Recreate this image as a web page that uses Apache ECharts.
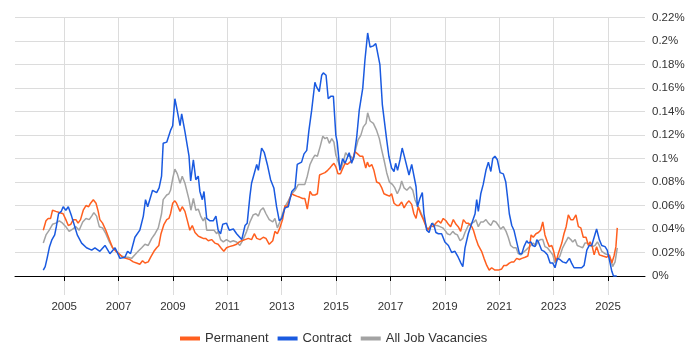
<!DOCTYPE html>
<html>
<head>
<meta charset="utf-8">
<script src="https://cdn.jsdelivr.net/npm/echarts@6/dist/echarts.min.js"></script>
<style>
  html, body { margin: 0; padding: 0; background: #fff; }
  #chart { width: 700px; height: 350px; }
</style>
</head>
<body>
<div id="chart"></div>
<script>
// share of job adverts, in percent, by decimal year
const permanent = [
  [2004.23,0.039],[2004.33,0.047],[2004.41,0.049],[2004.50,0.049],[2004.57,0.056],[2004.69,0.055],[2004.82,0.054],[2004.96,0.053],
  [2005.06,0.048],[2005.15,0.043],[2005.24,0.044],[2005.33,0.048],[2005.43,0.048],[2005.51,0.045],[2005.60,0.048],[2005.70,0.056],
  [2005.80,0.060],[2005.90,0.059],[2005.97,0.062],[2006.07,0.065],[2006.17,0.062],[2006.25,0.055],[2006.31,0.048],[2006.41,0.045],
  [2006.53,0.039],[2006.66,0.031],[2006.78,0.024],[2006.90,0.021],[2007.02,0.019],[2007.15,0.016],[2007.27,0.015],[2007.42,0.014],
  [2007.54,0.012],[2007.66,0.011],[2007.78,0.010],[2007.88,0.013],[2007.97,0.011],[2008.09,0.012],[2008.18,0.016],[2008.30,0.021],
  [2008.40,0.024],[2008.48,0.026],[2008.56,0.036],[2008.67,0.044],[2008.77,0.048],[2008.85,0.049],[2008.91,0.053],[2008.99,0.062],
  [2009.07,0.064],[2009.13,0.062],[2009.26,0.055],[2009.34,0.059],[2009.44,0.055],[2009.52,0.048],[2009.62,0.039],[2009.71,0.043],
  [2009.81,0.037],[2009.93,0.034],[2010.02,0.033],[2010.11,0.032],[2010.20,0.032],[2010.30,0.030],[2010.42,0.031],[2010.54,0.028],
  [2010.66,0.027],[2010.76,0.024],[2010.87,0.021],[2010.97,0.024],[2011.07,0.025],[2011.22,0.026],[2011.34,0.027],[2011.44,0.029],
  [2011.53,0.030],[2011.65,0.031],[2011.77,0.032],[2011.89,0.031],[2011.99,0.036],[2012.08,0.032],[2012.20,0.031],[2012.32,0.033],
  [2012.42,0.032],[2012.54,0.027],[2012.67,0.030],[2012.75,0.038],[2012.84,0.036],[2012.93,0.041],[2013.03,0.048],[2013.12,0.060],
  [2013.20,0.059],[2013.30,0.066],[2013.37,0.070],[2013.45,0.069],[2013.55,0.068],[2013.67,0.067],[2013.77,0.066],[2013.85,0.066],
  [2013.94,0.057],[2014.04,0.072],[2014.12,0.069],[2014.22,0.069],[2014.31,0.070],[2014.39,0.086],[2014.48,0.087],[2014.59,0.088],
  [2014.69,0.090],[2014.77,0.092],[2014.84,0.094],[2014.92,0.096],[2014.99,0.093],[2015.07,0.087],[2015.16,0.087],[2015.23,0.091],
  [2015.33,0.096],[2015.41,0.095],[2015.51,0.097],[2015.61,0.099],[2015.69,0.106],[2015.79,0.104],[2015.88,0.102],[2015.98,0.102],
  [2016.09,0.092],[2016.15,0.097],[2016.22,0.093],[2016.31,0.095],[2016.39,0.090],[2016.49,0.080],[2016.59,0.079],[2016.68,0.075],
  [2016.76,0.070],[2016.86,0.069],[2016.96,0.068],[2017.04,0.070],[2017.13,0.062],[2017.23,0.060],[2017.31,0.060],[2017.41,0.063],
  [2017.50,0.058],[2017.60,0.062],[2017.68,0.064],[2017.78,0.061],[2017.86,0.053],[2017.94,0.049],[2018.02,0.059],[2018.11,0.053],
  [2018.21,0.048],[2018.31,0.042],[2018.39,0.039],[2018.48,0.043],[2018.57,0.042],[2018.67,0.045],[2018.76,0.047],[2018.85,0.045],
  [2018.94,0.049],[2019.04,0.047],[2019.13,0.044],[2019.21,0.042],[2019.31,0.048],[2019.41,0.044],[2019.49,0.042],[2019.58,0.038],
  [2019.68,0.048],[2019.78,0.045],[2019.86,0.045],[2019.99,0.042],[2020.05,0.039],[2020.14,0.032],[2020.23,0.026],[2020.35,0.021],
  [2020.44,0.015],[2020.54,0.009],[2020.63,0.005],[2020.72,0.007],[2020.84,0.005],[2020.97,0.005],[2021.09,0.006],[2021.17,0.009],
  [2021.27,0.009],[2021.37,0.011],[2021.46,0.012],[2021.54,0.012],[2021.64,0.015],[2021.74,0.014],[2021.83,0.015],[2021.95,0.016],
  [2022.05,0.017],[2022.11,0.024],[2022.17,0.035],[2022.25,0.033],[2022.35,0.036],[2022.44,0.037],[2022.52,0.039],[2022.60,0.046],
  [2022.68,0.035],[2022.77,0.029],[2022.84,0.025],[2022.93,0.026],[2022.99,0.022],[2023.09,0.012],[2023.17,0.019],[2023.30,0.028],
  [2023.38,0.036],[2023.46,0.042],[2023.54,0.052],[2023.63,0.048],[2023.72,0.048],[2023.82,0.052],[2023.91,0.042],[2024.00,0.041],
  [2024.09,0.033],[2024.19,0.033],[2024.28,0.026],[2024.34,0.029],[2024.42,0.025],[2024.49,0.018],[2024.58,0.025],[2024.68,0.018],
  [2024.81,0.017],[2024.95,0.016],[2025.05,0.018],[2025.14,0.011],[2025.22,0.017],[2025.29,0.025],[2025.34,0.041]
];

const contract = [
  [2004.23,0.005],[2004.30,0.008],[2004.37,0.015],[2004.46,0.025],[2004.55,0.031],[2004.65,0.035],[2004.71,0.042],[2004.79,0.053],
  [2004.89,0.055],[2004.96,0.059],[2005.06,0.056],[2005.15,0.059],[2005.27,0.051],[2005.39,0.042],[2005.48,0.035],[2005.64,0.028],
  [2005.82,0.024],[2006.01,0.022],[2006.13,0.024],[2006.31,0.021],[2006.50,0.026],[2006.68,0.019],[2006.87,0.024],[2007.05,0.015],
  [2007.23,0.016],[2007.33,0.021],[2007.44,0.019],[2007.60,0.033],[2007.66,0.032],[2007.78,0.039],[2007.91,0.051],[2007.99,0.065],
  [2008.07,0.059],[2008.25,0.073],[2008.40,0.071],[2008.49,0.075],[2008.58,0.085],[2008.64,0.113],[2008.77,0.114],[2008.83,0.113],
  [2008.91,0.124],[2008.99,0.128],[2009.07,0.151],[2009.13,0.144],[2009.26,0.128],[2009.32,0.138],[2009.44,0.123],[2009.50,0.123],
  [2009.59,0.102],[2009.65,0.081],[2009.75,0.099],[2009.84,0.082],[2009.93,0.085],[2009.99,0.072],[2010.08,0.065],[2010.14,0.072],
  [2010.24,0.049],[2010.36,0.047],[2010.48,0.047],[2010.58,0.051],[2010.66,0.039],[2010.75,0.036],[2010.83,0.044],[2010.97,0.045],
  [2011.07,0.039],[2011.22,0.040],[2011.34,0.036],[2011.53,0.031],[2011.65,0.043],[2011.73,0.045],[2011.83,0.068],[2011.89,0.079],
  [2012.08,0.095],[2012.14,0.090],[2012.26,0.109],[2012.36,0.105],[2012.47,0.095],[2012.59,0.082],[2012.71,0.075],[2012.81,0.059],
  [2012.91,0.047],[2013.00,0.049],[2013.06,0.048],[2013.12,0.058],[2013.24,0.059],[2013.37,0.072],[2013.49,0.075],[2013.57,0.095],
  [2013.73,0.097],[2013.82,0.104],[2013.92,0.107],[2014.00,0.124],[2014.10,0.141],[2014.22,0.165],[2014.28,0.161],[2014.38,0.157],
  [2014.47,0.171],[2014.53,0.173],[2014.63,0.171],[2014.71,0.151],[2014.80,0.153],[2014.90,0.153],[2014.99,0.120],[2015.04,0.114],
  [2015.14,0.090],[2015.24,0.100],[2015.33,0.096],[2015.39,0.097],[2015.48,0.105],[2015.57,0.096],[2015.66,0.102],[2015.76,0.119],
  [2015.85,0.141],[2015.98,0.160],[2016.06,0.184],[2016.16,0.207],[2016.25,0.195],[2016.37,0.196],[2016.46,0.198],[2016.53,0.197],
  [2016.61,0.180],[2016.70,0.146],[2016.76,0.145],[2016.86,0.116],[2016.94,0.102],[2017.04,0.092],[2017.13,0.089],[2017.19,0.096],
  [2017.26,0.090],[2017.35,0.099],[2017.43,0.109],[2017.53,0.100],[2017.68,0.086],[2017.78,0.095],[2017.84,0.095],[2017.94,0.076],
  [2017.99,0.059],[2018.08,0.066],[2018.17,0.071],[2018.23,0.053],[2018.33,0.039],[2018.42,0.037],[2018.52,0.045],[2018.60,0.043],
  [2018.67,0.037],[2018.76,0.036],[2018.88,0.036],[2019.00,0.029],[2019.13,0.026],[2019.25,0.020],[2019.37,0.021],[2019.49,0.016],
  [2019.59,0.011],[2019.66,0.008],[2019.74,0.024],[2019.86,0.036],[2019.99,0.045],[2020.11,0.053],[2020.17,0.065],[2020.23,0.055],
  [2020.32,0.070],[2020.41,0.078],[2020.51,0.090],[2020.60,0.097],[2020.69,0.089],[2020.76,0.100],[2020.84,0.102],[2020.93,0.099],
  [2021.03,0.088],[2021.15,0.087],[2021.24,0.080],[2021.30,0.068],[2021.37,0.053],[2021.46,0.043],[2021.54,0.039],[2021.64,0.029],
  [2021.74,0.019],[2021.83,0.019],[2021.91,0.025],[2022.01,0.030],[2022.07,0.028],[2022.16,0.029],[2022.23,0.026],[2022.32,0.025],
  [2022.38,0.031],[2022.44,0.029],[2022.56,0.022],[2022.65,0.021],[2022.77,0.018],[2022.87,0.011],[2022.97,0.011],[2023.05,0.007],
  [2023.14,0.015],[2023.23,0.014],[2023.33,0.012],[2023.46,0.011],[2023.58,0.015],[2023.66,0.011],[2023.75,0.007],[2023.91,0.007],
  [2024.03,0.007],[2024.12,0.009],[2024.22,0.022],[2024.31,0.026],[2024.40,0.026],[2024.49,0.033],[2024.58,0.040],[2024.68,0.031],
  [2024.77,0.026],[2024.89,0.025],[2024.97,0.022],[2025.05,0.014],[2025.14,0.004],[2025.20,0.000],[2025.32,0.000]
];

const allJobs = [
  [2004.23,0.028],[2004.33,0.035],[2004.45,0.039],[2004.57,0.044],[2004.69,0.045],[2004.82,0.047],[2004.94,0.045],[2005.06,0.042],
  [2005.18,0.038],[2005.31,0.040],[2005.43,0.042],[2005.55,0.039],[2005.68,0.046],[2005.80,0.049],[2005.92,0.048],[2006.01,0.051],
  [2006.09,0.054],[2006.19,0.051],[2006.29,0.042],[2006.41,0.041],[2006.53,0.036],[2006.66,0.029],[2006.78,0.024],[2006.90,0.022],
  [2006.99,0.019],[2007.11,0.017],[2007.23,0.016],[2007.35,0.016],[2007.48,0.015],[2007.60,0.018],[2007.72,0.021],[2007.85,0.024],
  [2007.97,0.027],[2008.09,0.026],[2008.22,0.032],[2008.34,0.036],[2008.46,0.041],[2008.58,0.053],[2008.64,0.065],[2008.77,0.069],
  [2008.85,0.070],[2008.91,0.073],[2008.99,0.083],[2009.07,0.091],[2009.16,0.087],[2009.26,0.079],[2009.34,0.085],[2009.44,0.079],
  [2009.50,0.078],[2009.59,0.065],[2009.66,0.056],[2009.75,0.066],[2009.84,0.056],[2009.93,0.057],[2010.02,0.051],[2010.11,0.047],
  [2010.18,0.050],[2010.24,0.039],[2010.36,0.039],[2010.51,0.039],[2010.61,0.036],[2010.66,0.038],[2010.75,0.031],[2010.85,0.029],
  [2010.97,0.031],[2011.10,0.029],[2011.22,0.030],[2011.34,0.029],[2011.46,0.026],[2011.58,0.031],[2011.71,0.038],[2011.83,0.046],
  [2011.95,0.052],[2012.05,0.053],[2012.14,0.051],[2012.22,0.056],[2012.32,0.058],[2012.42,0.053],[2012.54,0.048],[2012.67,0.046],
  [2012.75,0.049],[2012.84,0.041],[2012.93,0.046],[2013.03,0.053],[2013.12,0.059],[2013.24,0.064],[2013.37,0.070],[2013.49,0.073],
  [2013.61,0.078],[2013.73,0.078],[2013.85,0.078],[2013.94,0.085],[2014.04,0.095],[2014.14,0.100],[2014.22,0.103],[2014.31,0.102],
  [2014.41,0.110],[2014.51,0.119],[2014.59,0.117],[2014.67,0.118],[2014.75,0.113],[2014.84,0.117],[2014.92,0.114],[2014.99,0.103],
  [2015.08,0.097],[2015.17,0.091],[2015.26,0.097],[2015.35,0.105],[2015.45,0.102],[2015.54,0.102],[2015.63,0.099],[2015.73,0.109],
  [2015.81,0.116],[2015.91,0.120],[2016.00,0.127],[2016.10,0.130],[2016.16,0.139],[2016.25,0.132],[2016.37,0.130],[2016.49,0.124],
  [2016.59,0.117],[2016.68,0.107],[2016.76,0.099],[2016.86,0.088],[2016.96,0.080],[2017.07,0.078],[2017.16,0.075],[2017.25,0.070],
  [2017.35,0.075],[2017.41,0.081],[2017.50,0.075],[2017.60,0.073],[2017.72,0.076],[2017.82,0.073],[2017.90,0.065],[2017.99,0.060],
  [2018.08,0.056],[2018.17,0.051],[2018.27,0.046],[2018.35,0.039],[2018.45,0.042],[2018.55,0.045],[2018.64,0.043],[2018.72,0.043],
  [2018.82,0.042],[2018.92,0.041],[2019.00,0.039],[2019.09,0.036],[2019.19,0.035],[2019.29,0.038],[2019.37,0.036],[2019.46,0.035],
  [2019.56,0.030],[2019.66,0.032],[2019.74,0.037],[2019.86,0.043],[2019.99,0.045],[2020.07,0.046],[2020.14,0.048],[2020.23,0.042],
  [2020.32,0.046],[2020.41,0.046],[2020.51,0.048],[2020.60,0.045],[2020.69,0.043],[2020.78,0.047],[2020.88,0.046],[2020.97,0.043],
  [2021.05,0.040],[2021.15,0.042],[2021.25,0.038],[2021.33,0.033],[2021.42,0.026],[2021.52,0.024],[2021.62,0.024],[2021.70,0.019],
  [2021.79,0.018],[2021.88,0.020],[2021.98,0.022],[2022.07,0.024],[2022.16,0.026],[2022.25,0.028],[2022.35,0.026],[2022.44,0.030],
  [2022.52,0.031],[2022.60,0.031],[2022.68,0.025],[2022.77,0.024],[2022.87,0.021],[2022.97,0.018],[2023.05,0.011],[2023.14,0.014],
  [2023.23,0.017],[2023.33,0.024],[2023.42,0.028],[2023.54,0.033],[2023.63,0.031],[2023.70,0.029],[2023.79,0.031],[2023.87,0.026],
  [2023.97,0.025],[2024.07,0.024],[2024.15,0.028],[2024.24,0.028],[2024.34,0.026],[2024.44,0.025],[2024.52,0.026],[2024.61,0.029],
  [2024.68,0.026],[2024.77,0.021],[2024.89,0.019],[2025.01,0.018],[2025.10,0.014],[2025.17,0.008],[2025.26,0.012],[2025.34,0.024]
];

const yearTicks = [2005, 2007, 2009, 2011, 2013, 2015, 2017, 2019, 2021, 2023, 2025];
const percentTicks = [0, 0.02, 0.04, 0.06, 0.08, 0.1, 0.12, 0.14, 0.16, 0.18, 0.2, 0.22];

const chart = echarts.init(document.getElementById('chart'));

const labelFont = { fontFamily: 'Liberation Sans, Arial, sans-serif', color: '#333' };

const option = {
    animation: false,
    backgroundColor: '#fff',
    grid: { left: 15, right: 55, top: 17.7, bottom: 55 },
    legend: {
        left: 175,
        top: 327,
        itemWidth: 20,
        itemHeight: 4,
        itemGap: 9,
        icon: 'rect',
        textStyle: Object.assign({ fontSize: 13 }, labelFont),
        data: ['Permanent', 'Contract', 'All Job Vacancies']
    },
    xAxis: {
        type: 'value',
        min: 2003.19,
        max: 2026.36,
        axisLine: { lineStyle: { color: '#000', width: 1 } },
        axisTick: { show: true, length: 5, lineStyle: { color: '#000' }, customValues: yearTicks },
        axisLabel: Object.assign({ fontSize: 11.5, margin: 6, customValues: yearTicks, formatter: v => String(v) }, labelFont),
        splitLine: { show: true, lineStyle: { color: '#dcdcdc', width: 1 } }
    },
    yAxis: {
        type: 'value',
        position: 'right',
        min: -0.0162,
        max: 0.22,
        axisLine: { show: false },
        axisTick: { show: false, customValues: percentTicks },
        axisLabel: Object.assign({
            fontSize: 11.5, margin: 7, customValues: percentTicks,
            formatter: v => parseFloat(v.toFixed(2)) + '%'
        }, labelFont),
        splitLine: { show: true, lineStyle: { color: '#dcdcdc', width: 1 } }
    },
    series: [
        {
            name: 'Permanent', type: 'line', data: permanent, showSymbol: false, z: 3,
            lineStyle: { color: '#ff5f1f', width: 1.5 }, itemStyle: { color: '#ff5f1f' }
        },
        {
            name: 'Contract', type: 'line', data: contract, showSymbol: false, z: 4,
            lineStyle: { color: '#1a5ae0', width: 1.5 }, itemStyle: { color: '#1a5ae0' }
        },
        {
            name: 'All Job Vacancies', type: 'line', data: allJobs, showSymbol: false, z: 2,
            lineStyle: { color: '#a3a3a3', width: 1.5 }, itemStyle: { color: '#a3a3a3' }
        }
    ]
};

chart.setOption(option);
</script>
</body>
</html>
